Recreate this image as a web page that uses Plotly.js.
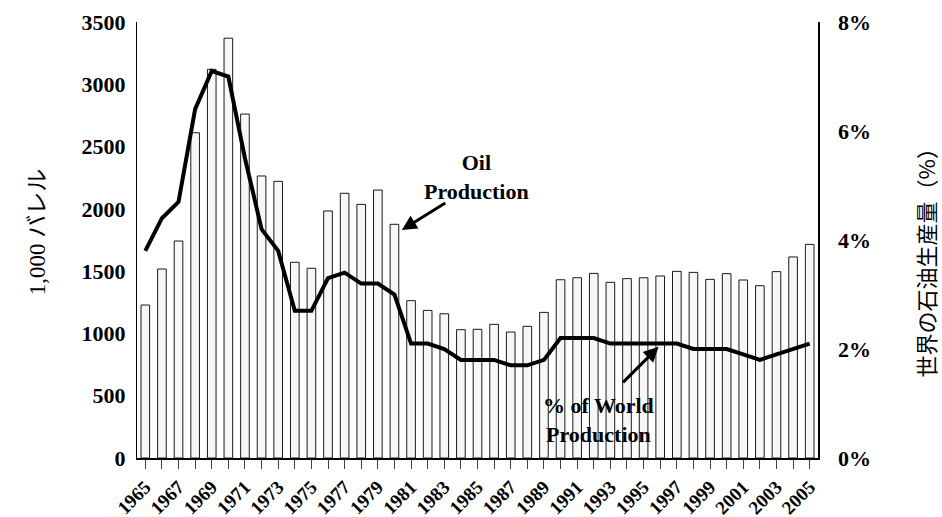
<!DOCTYPE html>
<html>
<head>
<meta charset="utf-8">
<script src="https://cdn.plot.ly/plotly-3.0.1.min.js"></script>
<style>html,body{margin:0;padding:0;background:#fff;}#chart{width:942px;height:517px;}</style>
</head>
<body>
<div id="chart"></div>
<script>
const years = [1965,1966,1967,1968,1969,1970,1971,1972,1973,1974,1975,1976,1977,1978,1979,1980,1981,1982,1983,1984,1985,1986,1987,1988,1989,1990,1991,1992,1993,1994,1995,1996,1997,1998,1999,2000,2001,2002,2003,2004,2005];
const oilProduction = [1228,1517,1742,2611,3120,3370,2761,2264,2221,1571,1523,1983,2125,2036,2151,1876,1263,1185,1158,1030,1033,1073,1011,1057,1169,1431,1447,1482,1410,1440,1447,1461,1498,1490,1434,1480,1429,1383,1496,1614,1715];
const worldShare = [0.038,0.044,0.047,0.064,0.071,0.070,0.055,0.042,0.038,0.027,0.027,0.033,0.034,0.032,0.032,0.030,0.021,0.021,0.020,0.018,0.018,0.018,0.017,0.017,0.018,0.022,0.022,0.022,0.021,0.021,0.021,0.021,0.021,0.020,0.020,0.020,0.019,0.018,0.019,0.020,0.021];
const tickLabels = years.map(y => (y % 2 === 1) ? String(y) : '');

const serif = 'Liberation Serif, Times New Roman, serif';

const traces = [
  {type:'bar', x:years, y:oilProduction, width:0.52,
   marker:{color:'#f7f7f7', line:{color:'#1a1a1a', width:1}},
   hoverinfo:'skip', showlegend:false},
  {type:'scatter', mode:'lines', x:years, y:worldShare, yaxis:'y2',
   line:{color:'#000', width:4}, showlegend:false, hoverinfo:'skip'}
];

const layout = {
  width:942, height:517,
  margin:{l:137, r:124, t:22, b:59},
  paper_bgcolor:'#fff', plot_bgcolor:'#fff',
  font:{family:serif, color:'#000'},
  xaxis:{range:[1964.5,2005.5], tickvals:years, ticktext:tickLabels, tickangle:-45,
         ticks:'outside', ticklen:9, tickcolor:'#444', showgrid:false, zeroline:false,
         showline:true, linecolor:'#000', linewidth:1.5,
         tickfont:{family:serif, size:19, weight:'bold'}},
  yaxis:{range:[0,3500], dtick:500, showgrid:false, zeroline:false, showline:true,
         linecolor:'#000', linewidth:1, ticks:'', ticklen:0, ticklabelstandoff:6,
         tickfont:{family:serif, size:22, weight:'bold'}},
  yaxis2:{range:[0,0.08], dtick:0.02, tickformat:'.0%', overlaying:'y', side:'right',
          showgrid:false, zeroline:false, showline:true, linecolor:'#000', linewidth:1.5,
          ticks:'', ticklabelstandoff:14, tickfont:{family:serif, size:22, weight:'bold'}},
  annotations:[
    {xref:'paper', yref:'paper', x:-0.147, y:0.52, xanchor:'center', yanchor:'middle',
     text:'1,000 バレル', textangle:-90,
     showarrow:false, font:{family:'Liberation Serif, Noto Sans CJK JP, serif', size:23}},
    {xref:'paper', yref:'paper', x:1.1585, y:0.46, xanchor:'center', yanchor:'middle',
     text:'世界の石油生産量（%）', textangle:-90,
     showarrow:false, font:{family:'Noto Sans CJK JP, sans-serif', size:22}},
    {x:1984.95, y:2256, text:'<b>Oil<br>Production</b>', showarrow:false,
     font:{family:serif, size:22}},
    {x:1980.44, y:1830, ax:45, ay:-28, text:'', showarrow:true, arrowhead:2, arrowsize:1,
     arrowwidth:3, arrowcolor:'#000'},
    {x:1992.3, y:0.0070, yref:'y2', text:'<b>% of World<br>Production</b>', showarrow:false,
     font:{family:serif, size:22}},
    {x:1995.9, y:0.0204, yref:'y2', ax:-37, ay:37, text:'', showarrow:true, arrowhead:2,
     arrowsize:1, arrowwidth:3, arrowcolor:'#000'}
  ]
};

Plotly.newPlot('chart', traces, layout, {displayModeBar:false, staticPlot:true});
</script>
</body>
</html>
